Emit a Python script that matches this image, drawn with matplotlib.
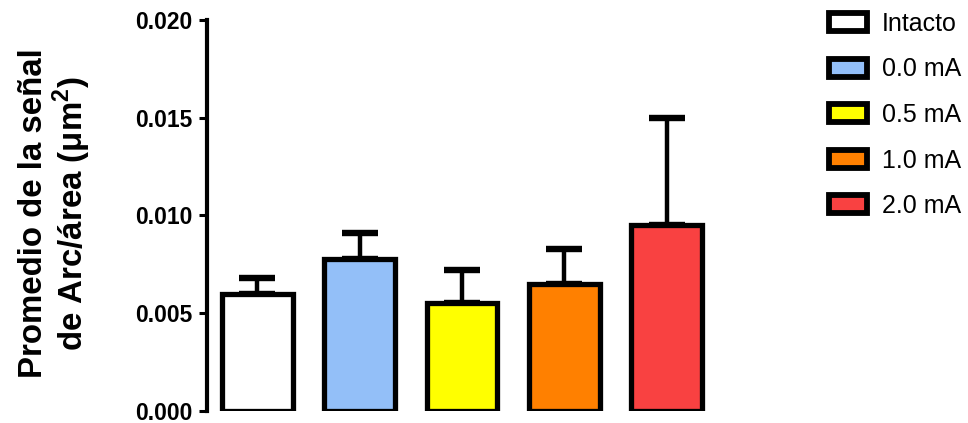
import matplotlib
matplotlib.use("Agg")
import matplotlib.pyplot as plt
from matplotlib.patches import Patch
import numpy as np

plt.rcParams["font.family"] = ["Liberation Sans", "DejaVu Sans"]
plt.rcParams["mathtext.fontset"] = "custom"
plt.rcParams["mathtext.rm"] = "Liberation Sans"
plt.rcParams["mathtext.bf"] = "Liberation Sans:bold"

groups = ["Intacto", "0.0 mA", "0.5 mA", "1.0 mA", "2.0 mA"]
means = [0.0060, 0.00775, 0.0055, 0.0065, 0.0095]
sem = [0.0008, 0.00135, 0.0017, 0.0018, 0.0055]
colors = ["#FFFFFF", "#93BFF8", "#FFFF00", "#FF8000", "#F94141"]
yticks = [0.000, 0.005, 0.010, 0.015, 0.020]

fig = plt.figure(figsize=(9.68, 4.23), dpi=100)
ax = fig.add_axes([207 / 968, 1 - 411 / 423, (720 - 207) / 968, 391 / 423])

x = np.arange(len(groups))
ax.errorbar(x, means, yerr=[np.zeros(len(sem)), sem], fmt="none",
            ecolor="black", elinewidth=3.2, capsize=13, capthick=4.6,
            zorder=1)
ax.bar(x, means, width=0.69, color=colors, edgecolor="black",
       linewidth=3.8, zorder=2)

ax.set_xlim(-0.49, 4.52)
ax.set_ylim(0, 0.020)
ax.set_yticks(yticks)
ax.set_yticklabels([f"{v:.3f}" for v in yticks], fontsize=16.5,
                   fontweight="bold")
ax.set_xticks([])
for s in ["top", "right", "bottom"]:
    ax.spines[s].set_visible(False)
ax.spines["left"].set_linewidth(3.0)
ax.tick_params(axis="y", length=6, width=2.2, pad=4.5)

ax.set_ylabel("Promedio de la señal\nde Arc/área (μm$^{\\mathbf{2}}$)",
              fontsize=23.8, fontweight="bold", linespacing=1.05)
ax.yaxis.set_label_coords(-0.222, 0.506)

handles = [Patch(facecolor=c, edgecolor="black", linewidth=4.2)
           for c in colors]
fig.legend(handles, groups, loc="upper left",
           bbox_to_anchor=(819 / 968, 1 - 2 / 423), frameon=False,
           fontsize=18, handlelength=1.5, handleheight=0.72,
           labelspacing=0.86, handletextpad=0.6, borderaxespad=0)

fig.savefig("out.png", dpi=100)
